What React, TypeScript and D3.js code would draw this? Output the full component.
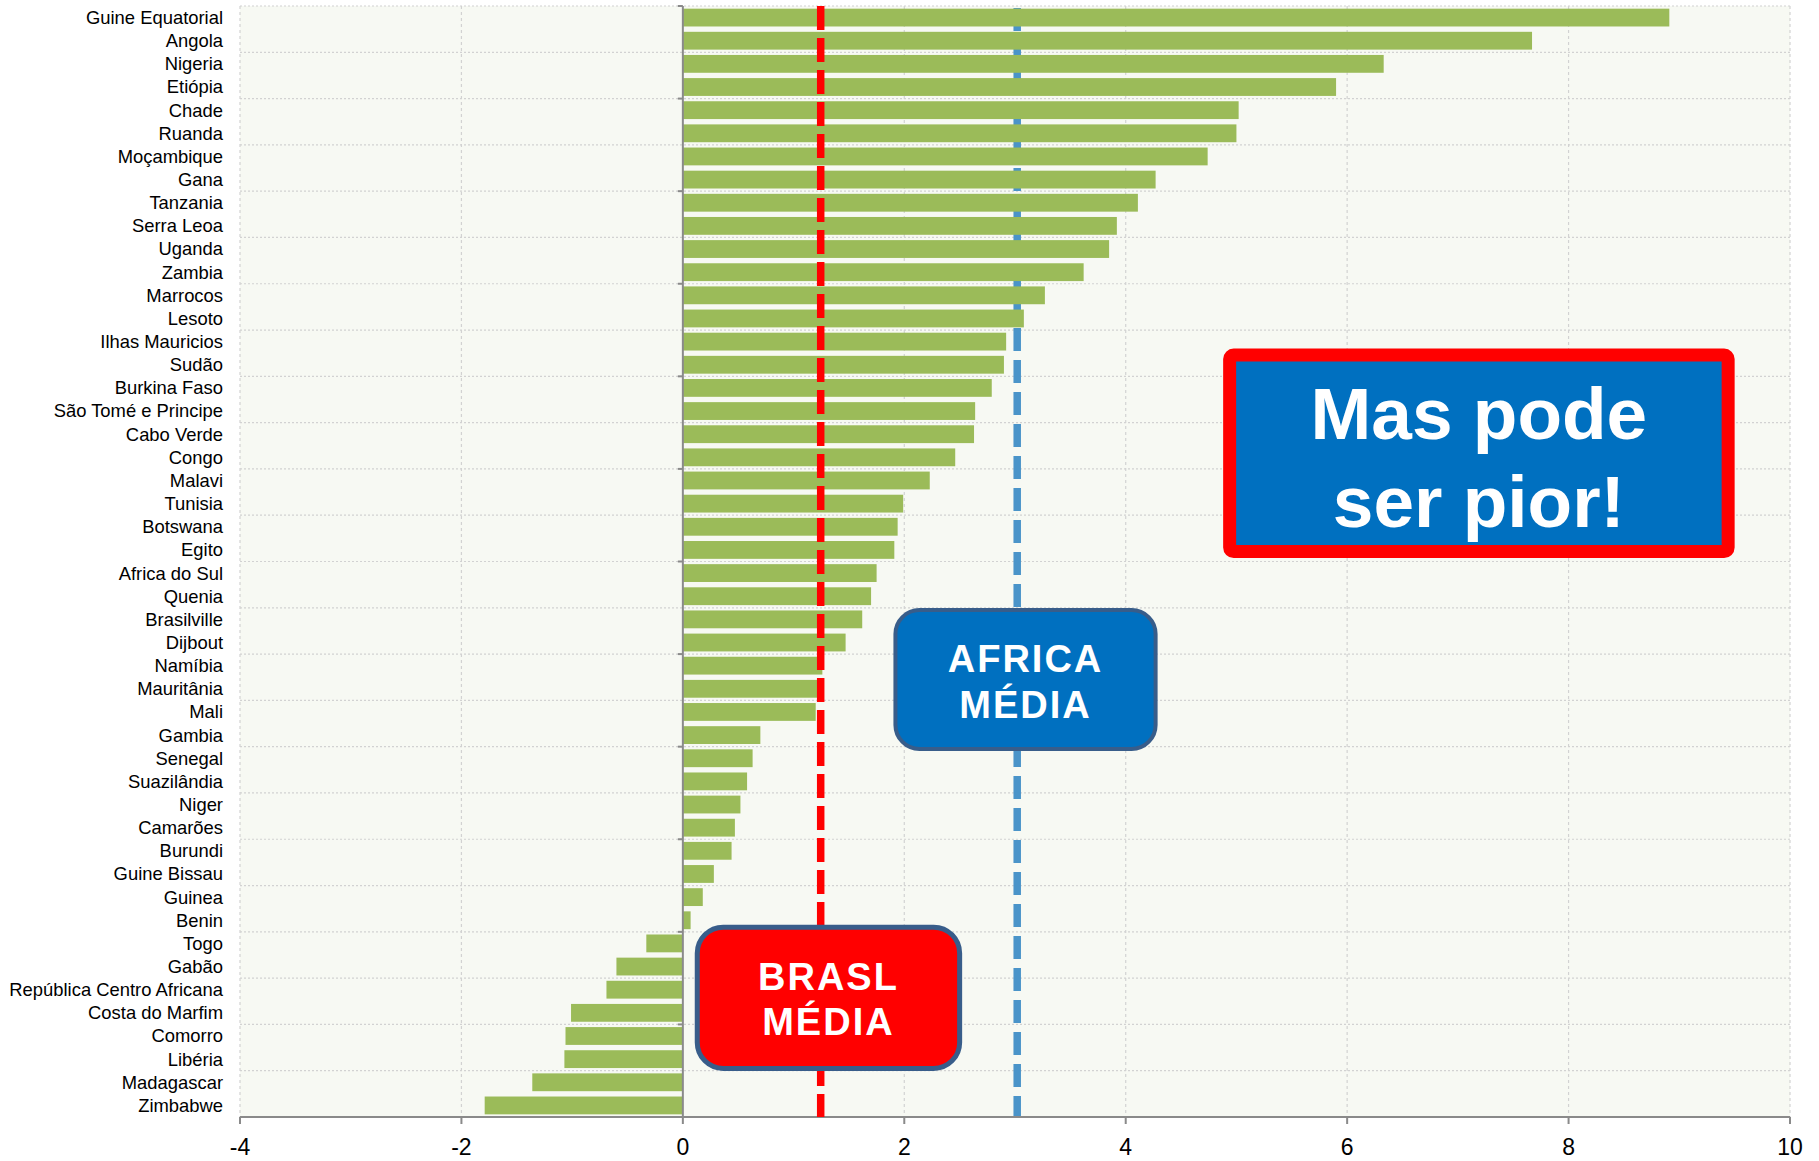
import React from "react";
import * as d3 from "d3";

const countries = [
  "Guine Equatorial", "Angola", "Nigeria", "Etiópia", "Chade", "Ruanda", "Moçambique", "Gana",
  "Tanzania", "Serra Leoa", "Uganda", "Zambia", "Marrocos", "Lesoto", "Ilhas Mauricios", "Sudão",
  "Burkina Faso", "São Tomé e Principe", "Cabo Verde", "Congo", "Malavi", "Tunisia", "Botswana", "Egito",
  "Africa do Sul", "Quenia", "Brasilville", "Dijbout", "Namíbia", "Mauritânia", "Mali", "Gambia",
  "Senegal", "Suazilândia", "Niger", "Camarões", "Burundi", "Guine Bissau", "Guinea", "Benin",
  "Togo", "Gabão", "República Centro Africana", "Costa do Marfim", "Comorro", "Libéria", "Madagascar", "Zimbabwe",
];
const values = [
  8.91, 7.67, 6.33, 5.9, 5.02, 5.0, 4.74, 4.27,
  4.11, 3.92, 3.85, 3.62, 3.27, 3.08, 2.92, 2.9,
  2.79, 2.64, 2.63, 2.46, 2.23, 1.99, 1.94, 1.91,
  1.75, 1.7, 1.62, 1.47, 1.26, 1.22, 1.2, 0.7,
  0.63, 0.58, 0.52, 0.47, 0.44, 0.28, 0.18, 0.07,
  -0.33, -0.6, -0.69, -1.01, -1.06, -1.07, -1.36, -1.79,
];
const xTicks = [-4, -2, 0, 2, 4, 6, 8, 10];
const brazilMean = 1.245;
const africaMean = 3.02;
const brazilLabel = ["BRASL", "MÉDIA"];
const africaLabel = ["AFRICA", "MÉDIA"];
const calloutLabel = ["Mas pode", "ser pior!"];

const W = 1819;
const H = 1161;
const M = { left: 240, right: 29, top: 6, bottom: 44 };
const FONT = "'Liberation Sans', Arial, Helvetica, sans-serif";

export default function App() {
  const x = d3.scaleLinear().domain([-4, 10]).range([M.left, W - M.right]);
  const yIdx = d3.scaleLinear().domain([0, countries.length]).range([M.top, H - M.bottom]);
  const y = d3
    .scaleBand<string>()
    .domain(countries)
    .range([M.top, H - M.bottom])
    .paddingInner(0.23)
    .paddingOuter(0.115);

  const top = M.top;
  const bottom = H - M.bottom;
  const gridRows = d3.range(0, countries.length, 2);
  const tickRows = d3.range(0, countries.length + 1, 4);

  // annotation boxes in data units (x value, category index)
  const africaBox = { x0: 1.92, x1: 4.27, i0: 26.1, i1: 32.1 };
  const brazilBox = { x0: 0.13, x1: 2.5, i0: 39.8, i1: 45.9 };
  const callBox = { x0: 4.88, x1: 9.5, i0: 14.8, i1: 23.85 };

  return (
    <svg
      width={W}
      height={H}
      style={{ position: "absolute", left: 0, top: 0, background: "#fff" }}
      fontFamily={FONT}
    >
      <rect x={x(-4)} y={top} width={x(10) - x(-4)} height={bottom - top} fill="#f7f9f3" />
      {/* horizontal gridlines */}
      {gridRows.map((r) => (
        <line
          key={"h" + r}
          x1={x(-4)}
          x2={x(10)}
          y1={yIdx(r)}
          y2={yIdx(r)}
          stroke="#d2d2d2"
          strokeWidth={1.2}
          strokeDasharray="2 2"
        />
      ))}
      {/* vertical gridlines */}
      {xTicks
        .filter((t) => t !== 0)
        .map((t) => (
          <line
            key={"v" + t}
            x1={x(t)}
            x2={x(t)}
            y1={top}
            y2={bottom}
            stroke="#d2d2d2"
            strokeWidth={1.2}
            strokeDasharray="3 3"
          />
        ))}
      {/* Africa mean (behind bars) */}
      <line
        x1={x(africaMean)}
        x2={x(africaMean)}
        y1={top}
        y2={bottom}
        stroke="#4a94c9"
        strokeWidth={7.5}
        strokeDasharray="23 9"
        strokeDashoffset={-2}
      />
      {/* bars */}
      {countries.map((c, i) => {
        const v = values[i];
        return (
          <rect
            key={c}
            x={Math.min(x(0), x(v))}
            y={y(c)}
            width={Math.abs(x(v) - x(0))}
            height={y.bandwidth()}
            fill="#9bbb59"
          />
        );
      })}
      {/* category axis */}
      <line x1={x(0)} x2={x(0)} y1={top} y2={bottom} stroke="#8a8a8a" strokeWidth={2} />
      {tickRows.map((r) => (
        <line key={"t" + r} x1={x(0) - 5} x2={x(0)} y1={yIdx(r)} y2={yIdx(r)} stroke="#8a8a8a" strokeWidth={2} />
      ))}
      {countries.map((c) => (
        <text
          key={"l" + c}
          x={M.left - 17}
          y={(y(c) as number) + y.bandwidth() / 2}
          dy="0.35em"
          textAnchor="end"
          fontSize={18.4}
          fill="#000"
        >
          {c}
        </text>
      ))}
      {/* x axis */}
      <line x1={x(-4)} x2={x(10)} y1={bottom} y2={bottom} stroke="#8a8a8a" strokeWidth={2.2} />
      {xTicks.map((t) => (
        <g key={"xt" + t}>
          <line x1={x(t)} x2={x(t)} y1={bottom} y2={bottom + 7} stroke="#8a8a8a" strokeWidth={2} />
          <text x={x(t)} y={bottom + 38} textAnchor="middle" fontSize={23} fill="#000">
            {t}
          </text>
        </g>
      ))}
      {/* Brazil mean (over bars) */}
      <line
        x1={x(brazilMean)}
        x2={x(brazilMean)}
        y1={top}
        y2={bottom}
        stroke="#ff0000"
        strokeWidth={7.5}
        strokeDasharray="24 8"
      />
      {/* Africa box */}
      <rect
        x={x(africaBox.x0)}
        y={yIdx(africaBox.i0)}
        width={x(africaBox.x1) - x(africaBox.x0)}
        height={yIdx(africaBox.i1) - yIdx(africaBox.i0)}
        rx={24}
        fill="#0070c0"
        stroke="#385d8a"
        strokeWidth={4}
      />
      {africaLabel.map((t, k) => (
        <text
          key={"a" + k}
          x={(x(africaBox.x0) + x(africaBox.x1)) / 2}
          y={yIdx(africaBox.i0) + 62 + k * 45.6}
          textAnchor="middle"
          fontSize={38}
          fontWeight="bold"
          letterSpacing={2}
          fill="#fff"
        >
          {t}
        </text>
      ))}
      {/* Brazil box */}
      <rect
        x={x(brazilBox.x0)}
        y={yIdx(brazilBox.i0)}
        width={x(brazilBox.x1) - x(brazilBox.x0)}
        height={yIdx(brazilBox.i1) - yIdx(brazilBox.i0)}
        rx={26}
        fill="#ff0000"
        stroke="#385d8a"
        strokeWidth={5}
      />
      {brazilLabel.map((t, k) => (
        <text
          key={"b" + k}
          x={(x(brazilBox.x0) + x(brazilBox.x1)) / 2}
          y={yIdx(brazilBox.i0) + 63 + k * 44.3}
          textAnchor="middle"
          fontSize={38}
          fontWeight="bold"
          letterSpacing={2}
          fill="#fff"
        >
          {t}
        </text>
      ))}
      {/* Callout box */}
      <rect
        x={x(callBox.x0) + 6.5}
        y={yIdx(callBox.i0) + 6.5}
        width={x(callBox.x1) - x(callBox.x0) - 13}
        height={yIdx(callBox.i1) - yIdx(callBox.i0) - 13}
        rx={4}
        fill="#0070c0"
        stroke="#ff0000"
        strokeWidth={13}
      />
      {calloutLabel.map((t, k) => (
        <text
          key={"c" + k}
          x={(x(callBox.x0) + x(callBox.x1)) / 2}
          y={yIdx(callBox.i0) + 90 + k * 88.4}
          textAnchor="middle"
          fontSize={73}
          fontWeight="bold"
          fill="#fff"
        >
          {t}
        </text>
      ))}
    </svg>
  );
}
